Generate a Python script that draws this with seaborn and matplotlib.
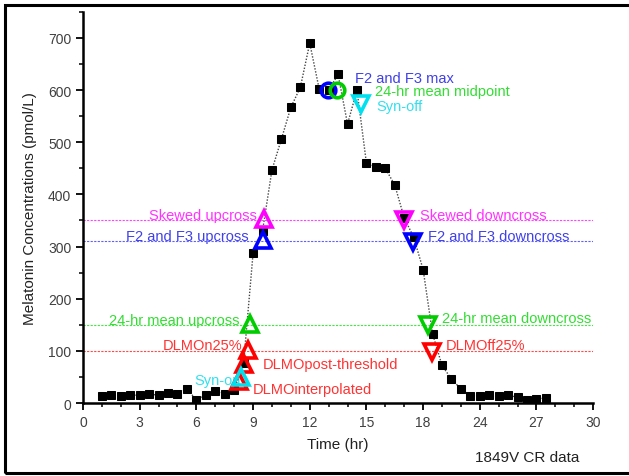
import matplotlib
matplotlib.use("Agg")
import matplotlib.pyplot as plt
import seaborn as sns
from matplotlib.patches import Rectangle

# melatonin samples (x in axis positions, half-hour sampling)
hours = [1.0, 1.5, 2.0, 2.5, 3.0, 3.5, 4.0, 4.5, 5.0, 5.5, 6.0, 6.5, 7.0, 7.5,
         8.0, 8.5, 9.0, 9.5, 10.0, 10.5, 11.0, 11.5, 12.0, 12.5, 13.0, 13.5,
         14.0, 14.5, 15.0, 15.5, 16.0, 16.5, 17.0, 17.5, 18.0, 18.5, 19.0,
         19.5, 20.0, 20.5, 21.0, 21.5, 22.0, 22.5, 23.0, 23.5, 24.0, 24.5]
conc = [13, 16, 14, 15, 15, 17, 15, 19, 17, 27, 6, 15, 24, 18,
        25, 77, 287, 330, 447, 506, 567, 605, 690, 602, 600, 630,
        535, 600, 460, 453, 450, 418, 355, 318, 256, 133, 72,
        46, 27, 14, 14, 15, 13, 15, 11, 6, 8, 10]

x_ticks = [0, 3, 6, 9, 12, 15, 18, 21, 24, 27]
x_tick_labels = ["0", "3", "6", "9", "12", "15", "18", "24", "27", "30"]
y_ticks = [0, 100, 200, 300, 400, 500, 600, 700]

# threshold lines
thr_levels = [350, 310, 150, 100]
thr_colors = ["#ff44ff", "#6060ff", "#44e644", "#ff4a4a"]

# event markers: name, x, y, marker, colour
ev_names = ["DLMOinterpolated", "DLMOpost-threshold", "DLMOn25%", "Syn-on",
            "24-hr mean upcross", "F2 and F3 upcross", "Skewed upcross",
            "F2 and F3 max", "24-hr mean midpoint", "Syn-off",
            "Skewed downcross", "F2 and F3 downcross", "24-hr mean downcross",
            "DLMOff25%"]
ev_x = [8.25, 8.5, 8.75, 8.35, 8.85, 9.5, 9.6, 12.95, 13.45, 14.7,
        17.0, 17.45, 18.25, 18.45]
ev_y = [42, 75, 101, 49, 152, 312, 352, 601, 601, 573, 350, 309, 149, 97]
ev_marker = ["^", "^", "^", "^", "^", "^", "^", "o", "o", "v", "v", "v", "v", "v"]
ev_color = ["#ff0000", "#ff0000", "#ff0000", "#00e0ee", "#00cc00", "#0000ff",
            "#ff00ff", "#0000ff", "#00cc00", "#00e0ee", "#ff00ff", "#0000ff",
            "#00cc00", "#ff0000"]

# text labels: x, y, alignment
lab_x = [9.0, 9.5, 8.45, 8.35, 8.3, 8.78, 9.2, 14.4, 15.45, 15.5,
         17.85, 18.25, 19.0, 19.2]
lab_y = [27, 74, 112, 45, 160, 321, 360, 624, 599, 569, 360, 320, 163, 112]
lab_ha = ["left", "left", "right", "right", "right", "right", "right", "left",
          "left", "left", "left", "left", "left", "left"]
lab_color = ["#ff3333", "#ff3333", "#ff3333", "#33e0ee", "#33dd33", "#4040e8",
             "#ff33ff", "#4040e8", "#33dd33", "#33e0ee", "#ff33ff", "#4040e8",
             "#33dd33", "#ff3333"]

sns.set_theme(style="ticks")
plt.rcParams["font.family"] = ["Liberation Sans", "DejaVu Sans"]

fig = plt.figure(figsize=(6.29, 4.77), dpi=100)
ax = fig.add_axes([0.132, 0.153, 0.811, 0.820])

for lev, col in zip(thr_levels, thr_colors):
    ax.axhline(lev, color=col, lw=0.8, ls=(0, (2, 1.2)), zorder=1)

sns.lineplot(x=hours, y=conc, ax=ax, color="#444444", lw=1.0,
             linestyle=(0, (1, 1.2)), marker="s", markersize=5.8,
             markerfacecolor="black", markeredgecolor="black", zorder=3)

for x, y, m, c in zip(ev_x, ev_y, ev_marker, ev_color):
    size = 10.5 if m == "o" else 12
    ax.plot([x], [y], marker=m, markersize=size, markerfacecolor="none",
            markeredgecolor=c, markeredgewidth=2.6, zorder=4)

for name, x, y, ha, c in zip(ev_names, lab_x, lab_y, lab_ha, lab_color):
    ax.text(x, y, name, ha=ha, va="center", color=c, fontsize=10.5, zorder=2)

ax.set_xlim(0, 27)
ax.set_ylim(0, 750)
ax.set_xticks(x_ticks)
ax.set_xticklabels(x_tick_labels)
ax.set_xticks(range(0, 28), minor=True)
ax.set_yticks(y_ticks)
ax.set_yticks(range(50, 751, 100), minor=True)
ax.tick_params(axis="both", which="major", length=5, width=1.3,
               direction="out", labelsize=10, labelcolor="#404040", color="black")
ax.tick_params(axis="both", which="minor", length=3, width=1.1,
               direction="out", color="black")

sns.despine(ax=ax)
for side in ["left", "bottom"]:
    ax.spines[side].set_linewidth(1.8)
    ax.spines[side].set_color("black")

ax.set_xlabel("Time (hr)", fontsize=11, color="#222222", labelpad=6)
ax.set_ylabel("Melatonin Concentrations (pmol/L)", fontsize=11,
              color="#222222", labelpad=8)
fig.text(0.755, 0.032, "1849V CR data", fontsize=11, color="#222222")

fig.patches.append(Rectangle((0.008, 0.006), 1.05, 0.982, transform=fig.transFigure,
                             fill=False, edgecolor="black", lw=2.2))

fig.savefig("out.png", dpi=100)
